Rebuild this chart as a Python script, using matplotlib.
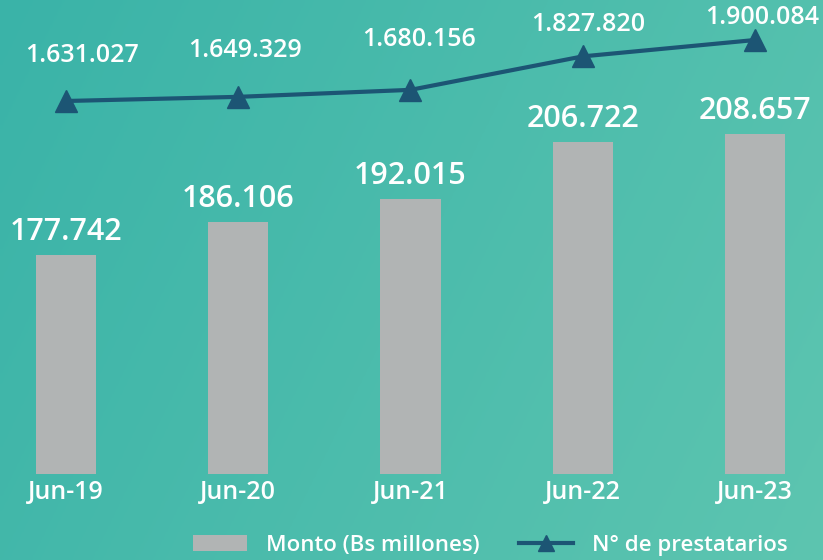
import matplotlib
matplotlib.use('Agg')
from matplotlib import pyplot as plt
import numpy as np

periods = ['Jun-19', 'Jun-20', 'Jun-21', 'Jun-22', 'Jun-23']
monto = [177742, 186106, 192015, 206722, 208657]
prestatarios = [1631027, 1649329, 1680156, 1827820, 1900084]

monto_labels = ['177.742', '186.106', '192.015', '206.722', '208.657']
prest_labels = ['1.631.027', '1.649.329', '1.680.156', '1.827.820', '1.900.084']

# hand placed label offsets (pixels) for the line labels
prest_offsets = [(16, 46), (7, 46), (9, 50), (5, 32), (7, 23)]

bar_color = '#b1b4b4'
line_color = '#1c5574'

plt.rcParams['font.family'] = ['Open Sans', 'DejaVu Sans']
plt.rcParams['font.weight'] = 'semibold'

fig = plt.figure(figsize=(8.23, 5.6), dpi=100)

# teal gradient background
bg = fig.add_axes([0, 0, 1, 1])
gx, gy = np.meshgrid(np.linspace(0, 1, 200), np.linspace(0, 1, 200))
t = np.clip(0.75 * gx + 0.25 * gy, 0, 1)
c0 = np.array([0x3a, 0xb3, 0xa8]) / 255
c1 = np.array([0x5d, 0xc5, 0xb0]) / 255
img = c0[None, None, :] * (1 - t[..., None]) + c1[None, None, :] * t[..., None]
bg.imshow(img, aspect='auto', extent=[0, 1, 0, 1], origin='upper')
bg.axis('off')

ax = fig.add_axes([0, 86 / 560, 1, 474 / 560])
ax.patch.set_alpha(0)
x = np.arange(len(periods))
ax.bar(x, monto, width=0.35, color=bar_color, label='Monto (Bs millones)', zorder=2)
ax.set_xlim(-0.383, 4.395)
ax.set_ylim(121789, 242893)
for i in range(len(monto)):
    ax.annotate(monto_labels[i], (x[i], monto[i]), xytext=(0, 15),
                textcoords='offset pixels', ha='center', va='baseline',
                fontsize=22, color='white')

ax.set_xticks(x)
ax.set_xticklabels(periods, fontsize=18, color='white')
ax.tick_params(axis='x', length=0, pad=4)
ax.set_yticks([])
for s in ax.spines.values():
    s.set_visible(False)

ax2 = ax.twinx()
ax2.plot(x, prestatarios, color=line_color, linewidth=3, marker='^',
         markersize=16, label='N° de prestatarios', zorder=3)
ax2.set_ylim(-14319, 2076550)
ax2.set_yticks([])
for s in ax2.spines.values():
    s.set_visible(False)
for i in range(len(prestatarios)):
    dx, dy = prest_offsets[i]
    ax2.annotate(prest_labels[i], (x[i], prestatarios[i]), xytext=(dx, dy),
                 textcoords='offset pixels', ha='center', va='center',
                 fontsize=18, color='white')

h1, l1 = ax.get_legend_handles_labels()
h2, l2 = ax2.get_legend_handles_labels()
leg = fig.legend(h1 + h2, l1 + l2, loc='center left',
                 bbox_to_anchor=(193 / 823, 15 / 560), ncol=2, frameon=False,
                 fontsize=16, handlelength=2.45, handleheight=0.7,
                 handletextpad=0.85, columnspacing=1.75, borderpad=0,
                 borderaxespad=0, markerscale=0.7)
for txt in leg.get_texts():
    txt.set_color('white')

fig.savefig('out.png', dpi=100)
